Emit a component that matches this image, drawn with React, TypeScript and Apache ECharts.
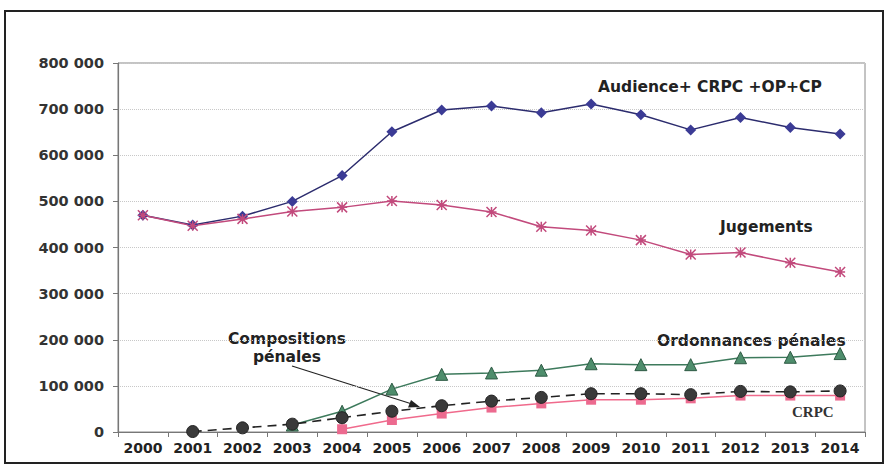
import React, { useEffect, useRef } from "react";
import * as echarts from "echarts";

const years = ["2000","2001","2002","2003","2004","2005","2006","2007","2008","2009","2010","2011","2012","2013","2014"];
const audience = [470000,449000,468000,500000,556000,651000,698000,707000,692000,711000,688000,655000,682000,660000,646000];
const jugements = [470000,447000,462000,478000,487000,501000,492000,477000,445000,437000,416000,385000,389000,367000,347000];
const ordonnances = [null,null,null,15000,45000,93000,125000,128000,134000,148000,146000,146000,161000,162000,170000];
const compositions = [null,1000,9000,17000,31000,45000,57000,67000,75000,83000,83000,81000,88000,87000,89000];
const crpc = [null,null,null,null,6000,26000,40000,53000,62000,70000,70000,73000,79000,79000,79000];
const yTicks = [0,100000,200000,300000,400000,500000,600000,700000,800000];

const fmt = (v: number) => (v === 0 ? "0" : String(v).replace(/\B(?=(\d{3})+(?!\d))/g, " "));

export default function App() {
  const ref = useRef<HTMLDivElement>(null);
  useEffect(() => {
    const chart = echarts.init(ref.current!, null, { renderer: "svg" });
    const font = "'DejaVu Sans', Verdana, sans-serif";
    chart.setOption({
      animation: false,
      backgroundColor: "#fff",
      grid: { left: 118, right: 21, top: 63, bottom: 38 },
      xAxis: {
        type: "category",
        data: years,
        boundaryGap: true,
        axisLine: { lineStyle: { color: "#777", width: 1.2 } },
        axisTick: { show: true, length: 5, lineStyle: { color: "#777" } },
        axisLabel: { interval: 0, color: "#222", fontFamily: font, fontWeight: "bold", fontSize: 14, margin: 9 },
      },
      yAxis: {
        type: "value",
        min: yTicks[0],
        max: yTicks[yTicks.length - 1],
        interval: 100000,
        axisLine: { show: true, lineStyle: { color: "#777", width: 1.2 } },
        axisTick: { show: true, length: 5, lineStyle: { color: "#777" } },
        axisLabel: { color: "#333", fontFamily: font, fontWeight: "bold", fontSize: 14.5, margin: 14, formatter: (v: number) => fmt(v) },
        splitLine: { show: true, lineStyle: { color: "#c8c8c8", type: "dotted" } },
      },
      series: [
        {
          name: "Audience+ CRPC +OP+CP", type: "line", data: audience,
          symbol: "diamond", symbolSize: 11,
          lineStyle: { color: "#2c2c6e", width: 1.5 }, itemStyle: { color: "#3b3b95" },
        },
        {
          name: "Jugements", type: "line", data: jugements,
          symbol: "path://M0,0 L10,10 M10,0 L0,10 M5,0 L5,10 M0,5 L10,5", symbolSize: 10,
          lineStyle: { color: "#c24a7c", width: 1.5 },
          itemStyle: { color: "none", borderColor: "#c24a7c", borderWidth: 1.5 },
        },
        {
          name: "Ordonnances pénales", type: "line", data: ordonnances,
          symbol: "triangle", symbolSize: 12,
          lineStyle: { color: "#3d7a5c", width: 1.5 },
          itemStyle: { color: "#4e8d6c", borderColor: "#2e5a44", borderWidth: 1 },
        },
        {
          name: "CRPC", type: "line", data: crpc,
          symbol: "rect", symbolSize: 10,
          lineStyle: { color: "#f06a8c", width: 1.5 },
          itemStyle: { color: "#ec6a8f" },
        },
        {
          name: "Compositions pénales", type: "line", data: compositions,
          symbol: "circle", symbolSize: 12,
          lineStyle: { color: "#222", width: 1.6, type: [9, 6] },
          itemStyle: { color: "#3a3a3a", borderColor: "#222", borderWidth: 1 },
        },
      ],
      graphic: [
        { type: "rect", shape: { x: 5, y: 11, width: 878, height: 452 }, style: { fill: "none", stroke: "#222", lineWidth: 2 }, silent: true },
        { type: "rect", shape: { x: 118, y: 63, width: 747, height: 369 }, style: { fill: "none", stroke: "#888", lineWidth: 1 }, silent: true },
        { type: "text", x: 598, y: 79, style: { text: "Audience+ CRPC +OP+CP", fill: "#222", font: `bold 15.5px ${font}` } },
        { type: "text", x: 720, y: 219, style: { text: "Jugements", fill: "#222", font: `bold 15.5px ${font}` } },
        { type: "text", x: 657, y: 333, style: { text: "Ordonnances pénales", fill: "#222", font: `bold 15.5px ${font}` } },
        { type: "text", x: 287, y: 330, style: { text: "Compositions\npénales", fill: "#222", font: `bold 15.5px ${font}`, align: "center", lineHeight: 18 } },
        { type: "text", x: 792, y: 404, style: { text: "CRPC", fill: "#333", font: `bold 15px 'Liberation Serif', 'Times New Roman', serif` } },
        { type: "line", shape: { x1: 292, y1: 366, x2: 412, y2: 404 }, style: { stroke: "#222", lineWidth: 1.2 } },
        { type: "polygon", shape: { points: [[420, 407], [408, 407.5], [411, 400]] }, style: { fill: "#222" } },
      ],
    });
    return () => chart.dispose();
  }, []);
  return <div ref={ref} style={{ width: 886, height: 470, position: "absolute", left: 0, top: 0 }} />;
}
